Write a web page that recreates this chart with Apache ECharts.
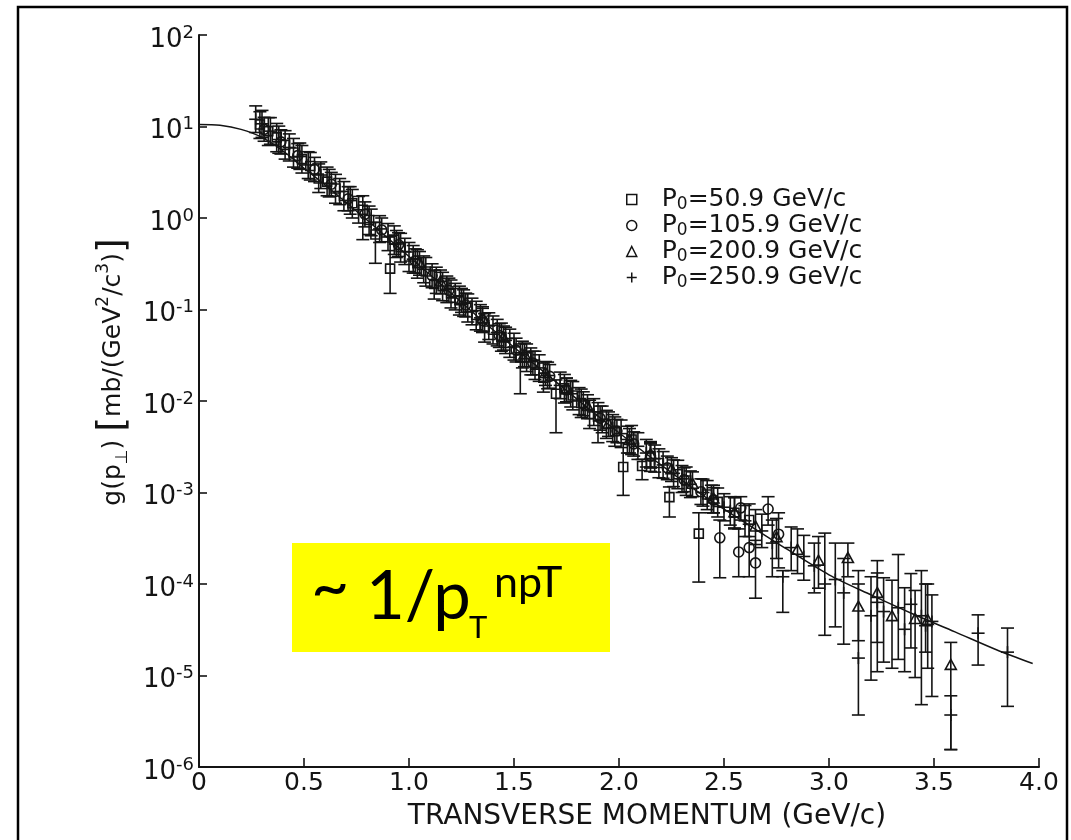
<!DOCTYPE html>
<html>
<head>
<meta charset="utf-8">
<script src="https://cdn.jsdelivr.net/npm/echarts@6/dist/echarts.min.js"></script>
<style>
html,body{margin:0;padding:0;background:#fff;}
#chart{width:1071px;height:840px;}
</style>
</head>
<body>
<div id="chart"></div>
<script>
// ---------------- DATA ----------------
const seriesNames = ['P₀=50.9 GeV/c', 'P₀=105.9 GeV/c', 'P₀=200.9 GeV/c', 'P₀=250.9 GeV/c'];
const xTicks = [0, 0.5, 1.0, 1.5, 2.0, 2.5, 3.0, 3.5, 4.0];
const yTicks = [1e-6, 1e-5, 1e-4, 1e-3, 1e-2, 1e-1, 1, 10, 100];
const xTitle = 'TRANSVERSE MOMENTUM (GeV/c)';
const annotation = ['~', '1/p', 'T', 'npT'];

// each point: [pT, g, errLow, errHigh]
const squares = [
[0.29,10.5,7.4,14.5],[0.33,8.9,6.2,12.5],[0.37,7.6,5.3,10.8],[0.41,6.3,4.4,9.0],
[0.45,5.2,3.6,7.4],[0.49,4.4,3.1,6.2],[0.53,3.7,2.6,5.2],[0.57,2.7,1.9,3.9],
[0.61,2.5,1.75,3.6],[0.65,2.1,1.45,3.0],[0.69,1.74,1.2,2.5],[0.73,1.45,1.0,2.05],
[0.78,1.23,0.58,1.75],[0.81,0.95,0.66,1.35],[0.84,0.66,0.32,0.9],[0.91,0.28,0.15,0.63],
[0.93,0.58,0.40,0.82],[0.96,0.48,0.33,0.68],[1.00,0.38,0.26,0.54],[1.04,0.32,0.22,0.45],
[1.08,0.26,0.18,0.37],[1.12,0.19,0.13,0.27],[1.16,0.18,0.125,0.255],[1.20,0.15,0.104,0.21],
[1.24,0.126,0.087,0.18],[1.28,0.105,0.073,0.148],[1.32,0.087,0.06,0.123],[1.36,0.064,0.044,0.09],
[1.40,0.060,0.042,0.085],[1.44,0.050,0.035,0.071],[1.48,0.043,0.03,0.061],[1.53,0.030,0.012,0.042],
[1.56,0.030,0.021,0.042],[1.60,0.025,0.0172,0.035],[1.64,0.018,0.0125,0.026],[1.70,0.012,0.0045,0.017],
[1.74,0.0138,0.0095,0.0195],[1.78,0.0115,0.008,0.0163],[1.82,0.0095,0.0066,0.0135],[1.86,0.0072,0.005,0.0102],
[1.90,0.0068,0.0035,0.0096],[1.94,0.0056,0.0039,0.0079],[1.98,0.0047,0.0032,0.0067],[2.02,0.0019,0.00093,0.0035],
[2.06,0.0038,0.0026,0.0054],[2.11,0.00195,0.00138,0.0023],[2.15,0.0025,0.0017,0.0036],[2.19,0.0021,0.00145,0.003],
[2.24,0.00089,0.00054,0.00115],[2.28,0.00158,0.0011,0.00225],[2.32,0.00135,0.00093,0.0019],[2.38,0.000355,0.000105,0.0006],
[2.42,0.00095,0.00065,0.00135],[2.47,0.00079,0.00054,0.00112],[2.55,0.0006,0.0004,0.00088],[2.62,0.0005,0.00033,0.00075]
];
const circles = [
[0.31,9.3,6.9,12.6],[0.39,6.8,5.0,9.2],[0.47,4.8,3.5,6.5],[0.55,3.4,2.5,4.6],
[0.63,2.34,1.73,3.15],[0.71,1.62,1.2,2.2],[0.79,1.10,0.8,1.5],[0.87,0.74,0.55,1.0],
[0.95,0.51,0.38,0.69],[1.03,0.34,0.25,0.46],[1.11,0.234,0.173,0.316],[1.19,0.162,0.12,0.22],
[1.27,0.112,0.083,0.151],[1.35,0.076,0.056,0.103],[1.43,0.052,0.0385,0.07],[1.51,0.036,0.0267,0.0486],
[1.59,0.026,0.0193,0.035],[1.67,0.0186,0.0138,0.025],[1.75,0.0132,0.0098,0.0178],[1.83,0.0093,0.0069,0.0126],
[1.91,0.0065,0.0048,0.0088],[1.99,0.0047,0.0035,0.0063],[2.07,0.0034,0.0025,0.0046],[2.15,0.0025,0.00185,0.0034],
[2.23,0.00186,0.00138,0.0025],[2.31,0.00138,0.00102,0.00186],[2.39,0.00102,0.00074,0.00141],[2.45,0.00083,0.0006,0.00113],
[2.48,0.00032,0.000117,0.0005],[2.57,0.000224,0.00012,0.0004],[2.58,0.00068,0.0005,0.0009],[2.62,0.00025,0.00012,0.00045],
[2.65,0.00017,0.00007,0.0003],[2.71,0.00066,0.00044,0.0009],[2.76,0.00035,0.00015,0.0006]
];
const triangles = [
[1.05,0.32,0.237,0.43],[1.15,0.20,0.148,0.27],[1.25,0.126,0.093,0.17],[1.35,0.079,0.058,0.107],
[1.45,0.049,0.036,0.066],[1.55,0.032,0.0237,0.043],[1.65,0.020,0.0148,0.027],[1.75,0.0132,0.0098,0.0178],
[1.85,0.0087,0.0064,0.0117],[1.95,0.0056,0.0041,0.0076],[2.05,0.0037,0.0027,0.005],[2.15,0.0026,0.0019,0.0035],
[2.25,0.00178,0.00132,0.0024],[2.35,0.00123,0.0009,0.00168],[2.45,0.00085,0.0006,0.0012],[2.55,0.0006,0.00041,0.00088],
[2.65,0.00042,0.00027,0.00065],[2.75,0.00032,0.00019,0.00052],[2.85,0.000234,0.00013,0.0004],[2.95,0.000178,0.00009,0.00033],
[3.09,0.00019,0.00012,0.00028],[3.14,0.000056,0.000024,0.0001],[3.23,0.000079,0.000023,0.00018],[3.30,0.000044,0.000012,0.00011],
[3.41,0.000041,0.0000095,0.000085],[3.47,0.00004,0.000012,0.0001],[3.58,0.0000129,0.00000155,0.000023]
];
const pluses = [
[0.27,12.0,8.6,16.8],[0.30,10.7,7.6,15],[0.34,8.9,6.4,12.5],[0.38,7.2,5.1,10.1],
[0.43,5.9,4.2,8.3],[0.48,4.7,3.4,6.6],[0.52,3.8,2.7,5.3],[0.58,2.95,2.1,4.1],
[0.62,2.4,1.7,3.4],[0.67,1.95,1.4,2.7],[0.72,1.55,1.1,2.2],[0.76,1.23,0.88,1.72],
[0.82,0.89,0.64,1.25],[0.86,0.76,0.54,1.06],[0.90,0.62,0.44,0.87],[0.94,0.52,0.37,0.73],
[0.98,0.43,0.31,0.6],[1.02,0.355,0.25,0.5],[1.07,0.275,0.196,0.385],[1.13,0.21,0.15,0.29],
[1.18,0.166,0.119,0.232],[1.22,0.138,0.099,0.193],[1.26,0.117,0.084,0.164],[1.30,0.095,0.068,0.133],
[1.34,0.081,0.058,0.113],[1.38,0.066,0.047,0.092],[1.42,0.056,0.04,0.078],[1.46,0.046,0.033,0.064],
[1.50,0.039,0.028,0.055],[1.54,0.032,0.023,0.045],[1.58,0.027,0.0193,0.038],[1.62,0.023,0.0164,0.032],
[1.66,0.019,0.0136,0.0266],[1.72,0.0148,0.0106,0.0207],[1.77,0.012,0.0086,0.0168],[1.81,0.010,0.0071,0.014],
[1.88,0.0076,0.0054,0.0106],[1.92,0.0063,0.0045,0.0088],[1.97,0.0051,0.0036,0.0071],[2.01,0.0044,0.0031,0.0062],
[2.04,0.0038,0.0027,0.0053],[2.09,0.0032,0.0023,0.0045],[2.13,0.0027,0.0019,0.0038],[2.17,0.00234,0.00167,0.0033],
[2.21,0.002,0.00143,0.0028],[2.26,0.00162,0.00116,0.00227],[2.30,0.00141,0.001,0.00197],[2.34,0.00123,0.00088,0.00172],
[2.40,0.001,0.00071,0.0014],[2.44,0.00085,0.0006,0.0012],[2.50,0.00069,0.00049,0.00097],[2.53,0.00063,0.00044,0.0009],
[2.60,0.00049,0.00033,0.00072],[2.68,0.00038,0.00025,0.00058],[2.73,0.00028,0.00012,0.0005],[2.78,0.00012,0.000049,0.00014],
[2.82,0.00025,0.00014,0.00042],[2.88,0.0002,0.00011,0.00034],[2.93,0.000158,0.00008,0.00028],[2.98,0.0001,0.0000275,0.00036],
[3.03,0.000112,0.000034,0.00028],[3.07,0.00008,0.000022,0.00019],[3.14,0.0000155,0.0000037,0.00014],[3.20,0.000045,0.0000089,0.00012],
[3.23,0.000063,0.000011,0.000132],[3.26,0.00005,0.000014,0.000117],[3.33,0.000055,0.000015,0.00021],[3.36,0.000032,0.000011,0.000091],
[3.39,0.00006,0.00002,0.00013],[3.44,0.000045,0.0000048,0.00014],[3.46,0.000035,0.000018,0.0001],[3.49,0.000039,0.0000059,0.000076],
[3.58,0.0000037,0.00000155,0.000006],[3.71,0.000029,0.000013,0.000046],[3.85,0.000018,0.0000046,0.000033]
];
// fitted curve
const curveX = [0, 0.1, 0.2, 0.3, 0.4, 0.5, 0.6, 0.7, 0.8, 0.9, 1.0, 1.2, 1.4, 1.6, 1.8, 2.0, 2.2, 2.4, 2.6, 2.8, 3.0, 3.2, 3.4, 3.6, 3.8, 3.97];
const curveY = [10.5, 10.3, 9.3, 7.6, 5.4, 3.5, 2.3, 1.48, 0.95, 0.60, 0.38, 0.151, 0.060, 0.025, 0.0105, 0.0045, 0.0020, 0.00093, 0.00047, 0.00024, 0.000126, 0.000076, 0.000047, 0.000030, 0.000019, 0.0000135];

// ---------------- CHART ----------------
const ink = '#141414';
const FONT = 'DejaVu Sans';
const chart = echarts.init(document.getElementById('chart'), null, {renderer: 'canvas'});

function makeRender(shape) {
  return function (params, api) {
    const x = api.value(0), y = api.value(1), lo = api.value(2), hi = api.value(3);
    const p = api.coord([x, y]);
    const pl = api.coord([x, lo]);
    const ph = api.coord([x, hi]);
    const st = {stroke: ink, lineWidth: 1.6, fill: null};
    const cw = 6.5;
    const ch = [
      {type: 'line', shape: {x1: p[0], y1: ph[1], x2: p[0], y2: pl[1]}, style: st},
      {type: 'line', shape: {x1: p[0] - cw, y1: ph[1], x2: p[0] + cw, y2: ph[1]}, style: st},
      {type: 'line', shape: {x1: p[0] - cw, y1: pl[1], x2: p[0] + cw, y2: pl[1]}, style: st}
    ];
    const hol = {stroke: ink, lineWidth: 1.6, fill: 'rgba(0,0,0,0)'};
    if (shape === 'square') {
      ch.push({type: 'rect', shape: {x: p[0] - 4.5, y: p[1] - 4.5, width: 9, height: 9}, style: hol});
    } else if (shape === 'circle') {
      ch.push({type: 'circle', shape: {cx: p[0], cy: p[1], r: 5}, style: hol});
    } else if (shape === 'triangle') {
      ch.push({type: 'polygon', shape: {points: [[p[0], p[1] - 6], [p[0] - 5.5, p[1] + 4], [p[0] + 5.5, p[1] + 4]]}, style: hol});
    } else {
      ch.push({type: 'line', shape: {x1: p[0] - 6.5, y1: p[1], x2: p[0] + 6.5, y2: p[1]}, style: st});
      ch.push({type: 'line', shape: {x1: p[0], y1: p[1] - 6, x2: p[0], y2: p[1] + 6}, style: st});
    }
    return {type: 'group', children: ch};
  };
}

const shapes = ['square', 'circle', 'triangle', 'plus'];
const dataSets = [squares, circles, triangles, pluses];
const legendIcons = ['rect', 'circle', 'triangle', 'path://M0,5L10,5M5,0L5,10'];

const series = dataSets.map((d, i) => ({
  type: 'custom',
  name: seriesNames[i],
  renderItem: makeRender(shapes[i]),
  data: d,
  encode: {x: 0, y: 1},
  itemStyle: {color: ink},
  z: 3,
  silent: true
}));
series.push({
  type: 'line',
  name: 'fit',
  data: curveX.map((x, i) => [x, curveY[i]]),
  smooth: 0.3,
  showSymbol: false,
  symbol: 'none',
  lineStyle: {color: ink, width: 1.5},
  z: 2,
  silent: true
});

const supMap = v => {
  const e = Math.round(Math.log10(v));
  return '{b|10}{s|' + (e < 0 ? '-' + (-e) : e) + '}';
};

const option = {
  backgroundColor: '#ffffff',
  animation: false,
  grid: {left: 199, right: 32, top: 35, bottom: 73, containLabel: false},
  legend: {
    orient: 'vertical',
    left: 621,
    top: 182,
    itemWidth: 10,
    itemHeight: 10,
    itemGap: 0,
    selectedMode: false,
    formatter: n => '{a|P}{c|0}{a|' + n.slice(2) + '}',
    textStyle: {
      color: ink, fontFamily: FONT, fontSize: 25, padding: [0, 0, 0, 20],
      rich: {
        a: {fontFamily: FONT, fontSize: 25, color: ink, lineHeight: 27},
        c: {fontFamily: FONT, fontSize: 17, color: ink, lineHeight: 17, verticalAlign: 'bottom'}
      }
    },
    data: seriesNames.map((n, i) => ({
      name: n,
      icon: legendIcons[i],
      itemStyle: {color: 'rgba(0,0,0,0)', borderColor: ink, borderWidth: 1.5}
    }))
  },
  xAxis: {
    type: 'value',
    min: 0, max: 4, interval: 0.5,
    name: xTitle,
    nameLocation: 'middle',
    nameGap: 36,
    nameTextStyle: {fontFamily: FONT, fontSize: 28, color: ink, padding: [0, 0, 0, 56]},
    axisLine: {show: true, onZero: false, lineStyle: {color: ink, width: 2}},
    axisTick: {show: true, inside: true, length: 9, lineStyle: {color: ink, width: 1.6}},
    splitLine: {show: false},
    axisLabel: {
      color: ink, fontFamily: FONT, fontSize: 25, margin: 4,
      formatter: v => (v === 0 ? '0' : v.toFixed(1))
    }
  },
  yAxis: {
    type: 'log',
    logBase: 10,
    min: yTicks[0], max: yTicks[yTicks.length - 1],
    splitNumber: 8,
    axisLine: {show: true, lineStyle: {color: ink, width: 2}},
    axisTick: {show: true, inside: true, length: 8, lineStyle: {color: ink, width: 1.6}},
    minorTick: {show: false},
    splitLine: {show: false},
    axisLabel: {
      margin: 5,
      padding: [10, 0, 0, 0],
      formatter: supMap,
      rich: {
        b: {fontFamily: FONT, fontSize: 26, color: ink, lineHeight: 32},
        s: {fontFamily: FONT, fontSize: 18, color: ink, lineHeight: 18, verticalAlign: 'top'}
      }
    }
  },
  graphic: [
    {
      type: 'text', x: 113, y: 372, rotation: Math.PI / 2, z: 10,
      style: {
        text: '{t|g(p}{u|⊥}{t|) }{k|[}{t|mb/(GeV}{s|2}{t|/c}{s|3}{t|)}{k|]}',
        align: 'center', verticalAlign: 'middle',
        rich: {
          t: {fontFamily: FONT, fontSize: 25, fill: ink, lineHeight: 36},
          u: {fontFamily: FONT, fontSize: 17, fill: ink, lineHeight: 17, verticalAlign: 'bottom'},
          s: {fontFamily: FONT, fontSize: 17, fill: ink, lineHeight: 17, verticalAlign: 'top'},
          k: {fontFamily: FONT, fontSize: 38, fill: ink, lineHeight: 36}
        }
      }
    },
    {type: 'rect', z: 10, shape: {x: 292, y: 543, width: 318, height: 109}, style: {fill: '#FFFF00'}},
    {type: 'text', z: 11, x: 311, y: 588, style: {text: annotation[0], fontFamily: 'Lato', fontSize: 66, fill: '#000', align: 'left', verticalAlign: 'middle'}},
    {type: 'text', z: 11, x: 366, y: 597, style: {text: annotation[1], fontFamily: 'Lato', fontSize: 67, fill: '#000', align: 'left', verticalAlign: 'middle'}},
    {type: 'text', z: 11, x: 469, y: 628, style: {text: annotation[2], fontFamily: 'Lato', fontSize: 31, fill: '#000', align: 'left', verticalAlign: 'middle'}},
    {type: 'text', z: 11, x: 494, y: 583, style: {text: annotation[3], fontFamily: 'Lato', fontSize: 43, fill: '#000', align: 'left', verticalAlign: 'middle'}},
    {type: 'rect', z: 20, shape: {x: 18, y: 7, width: 1049, height: 845}, style: {fill: 'rgba(0,0,0,0)', stroke: '#000', lineWidth: 2.5}}
  ],
  series: series
};
chart.setOption(option);
</script>
</body>
</html>
